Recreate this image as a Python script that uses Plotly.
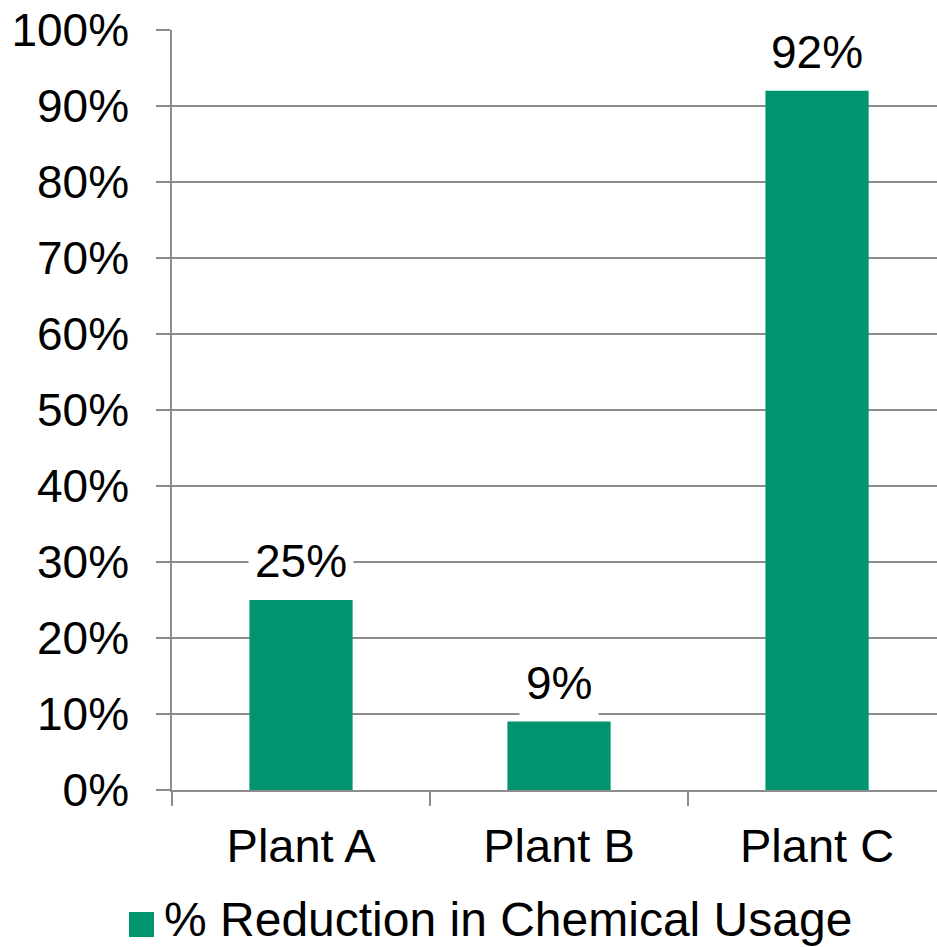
import plotly.graph_objects as go

categories = ["Plant A", "Plant B", "Plant C"]
reduction = [0.25, 0.09, 0.92]
series_name = "% Reduction in Chemical Usage"
bar_color = "#00956E"
grid_color = "#8C8C8C"
FONT = "Liberation Sans, Arial, sans-serif"

W, H = 937, 947
L, T, B = 172, 30, 157

fig = go.Figure()
fig.add_trace(go.Bar(
    x=categories, y=reduction, name=series_name,
    marker=dict(color=bar_color, line=dict(width=0)),
    width=0.4, showlegend=False,
))

# data labels with white background
for c, v in zip(categories, reduction):
    fig.add_annotation(
        x=c, y=v, xref="x", yref="y",
        text=f"{round(v*100)}%", showarrow=False,
        font=dict(family=FONT, size=46, color="black"),
        bgcolor="white", borderpad=6,
        xanchor="center", yanchor="bottom", yshift=6,
    )

plot_w = W - L
plot_h = H - T - B
def px_x(p):
    return (p - L) / plot_w
def px_y(p):
    return (H - B - p) / plot_h

# legend (manual)
fig.add_shape(type="rect", xref="paper", yref="paper",
              x0=px_x(129), x1=px_x(154), y0=px_y(937), y1=px_y(912),
              fillcolor=bar_color, line=dict(width=0))
fig.add_annotation(
    x=px_x(162), y=px_y(919), xref="paper", yref="paper",
    text=series_name, showarrow=False, xanchor="left", yanchor="middle",
    font=dict(family=FONT, size=48, color="black"),
)

fig.update_layout(
    width=W, height=H,
    margin=dict(l=L, r=0, t=T, b=B, pad=0),
    paper_bgcolor="white", plot_bgcolor="white",
    font=dict(family=FONT, color="black"),
    bargap=0.6,
)
fig.update_yaxes(
    range=[0, 1], dtick=0.1, tickformat=".0%",
    showgrid=True, gridcolor=grid_color, gridwidth=1.5,
    showline=True, linecolor=grid_color, linewidth=1.5,
    ticks="outside", ticklen=14, tickcolor=grid_color, tickwidth=1.5,
    tickfont=dict(family=FONT, size=46, color="black"),
    ticklabelstandoff=18, zeroline=False,
)
fig.update_xaxes(
    type="category", range=[-0.5, 2.465],
    showgrid=False, showline=True, linecolor=grid_color, linewidth=1.5,
    ticks="outside", ticklen=14, tickcolor=grid_color, tickwidth=1.5,
    tickson="boundaries",
    tickfont=dict(family=FONT, size=47, color="black"),
    ticklabelstandoff=14,
)

fig.write_html("out.html")
